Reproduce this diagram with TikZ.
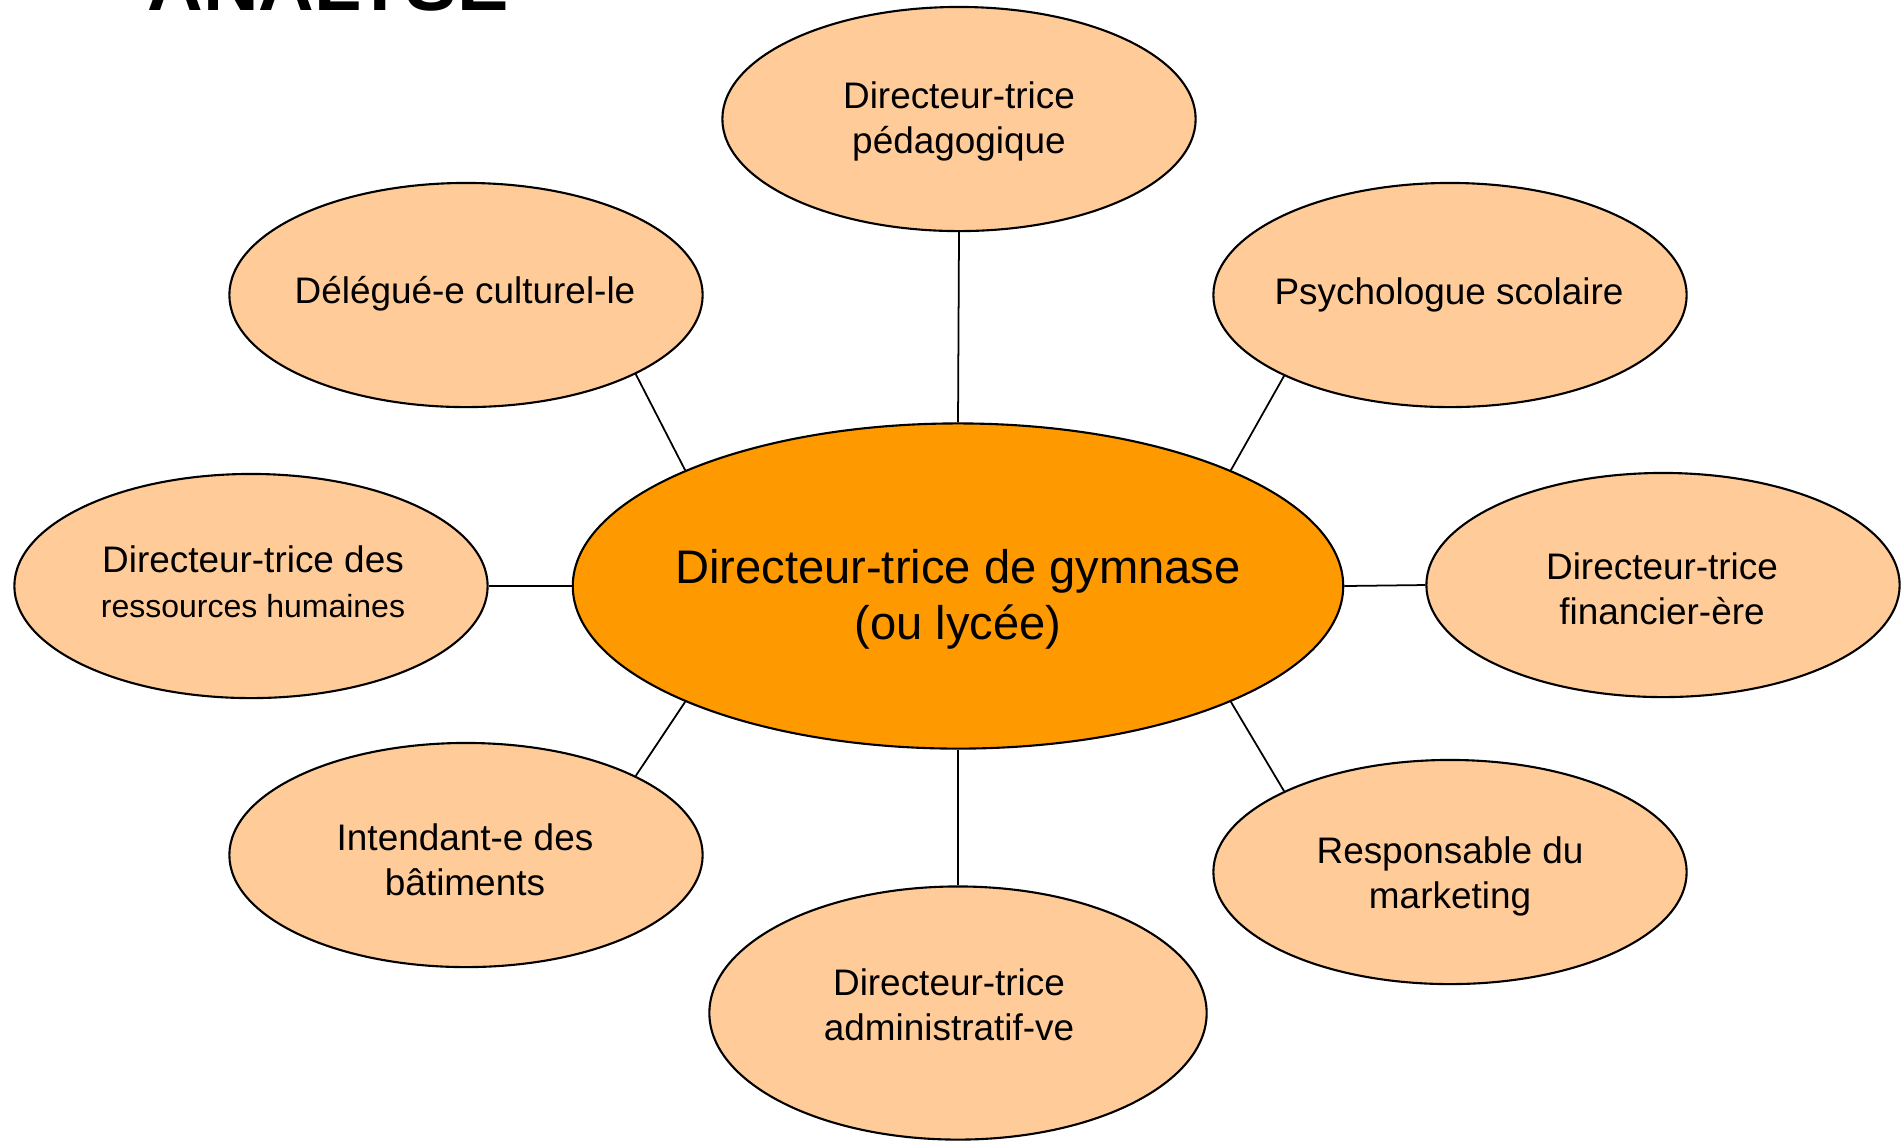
\documentclass[tikz,border=0pt]{standalone}
\usepackage{fontspec}
\setmainfont{Liberation Sans}
\usetikzlibrary{shapes.geometric}
\definecolor{cffcc99}{RGB}{255,204,153}
\definecolor{cff9900}{RGB}{255,153,0}

\begin{document}
\begin{tikzpicture}[y=0.01cm,x=0.01cm,yscale=-1,
  role/.style={ellipse,draw=black,fill=cffcc99,line width=0.6pt,inner sep=0pt,
    minimum width=4.73cm,minimum height=2.24cm},
  roletext/.style={align=center,inner sep=0pt,font=\fontsize{10.5}{12.8}\selectfont},
  link/.style={draw=black,line width=0.5pt}]
  \useasboundingbox (0,0) rectangle (1901,1141);
  \path (147,10) node[anchor=base west,inner sep=0pt,font=\bfseries\fontsize{21.9}{26}\selectfont] (textTitre) {ANALYSE};

  % ellipses
  \path (958,586) node[role,fill=cff9900,minimum width=7.70cm,minimum height=3.25cm] (ellipseCentre) {};
  \path (959,119) node[role] (ellipsePeda) {};
  \path (466,295) node[role] (ellipseDelegue) {};
  \path (1450,295) node[role] (ellipsePsy) {};
  \path (251,586) node[role] (ellipseRH) {};
  \path (1663,585) node[role] (ellipseFin) {};
  \path (466,855) node[role] (ellipseIntendant) {};
  \path (1450,872) node[role] (ellipseMarketing) {};
  \path (958,1013) node[role,minimum width=4.97cm,minimum height=2.53cm] (ellipseAdmin) {};

  % liens
  \path[link] (ellipsePeda.south) -- (ellipseCentre.north);
  \path[link] (ellipseDelegue.-25) -- (ellipseCentre.157);
  \path[link] (ellipsePsy.206) -- (ellipseCentre.23);
  \path[link] (ellipseRH.east) -- (ellipseCentre.west);
  \path[link] (ellipseCentre.east) -- (ellipseFin.west);
  \path[link] (ellipseIntendant.25) -- (ellipseCentre.203);
  \path[link] (ellipseMarketing.154) -- (ellipseCentre.-23);
  \path[link] (ellipseCentre.south) -- (ellipseAdmin.north);

  % textes
  \path (958,599) node[roletext,font=\fontsize{13.4}{15.9}\selectfont] (textCentre) {Directeur-trice de gymnase\\(ou lycée)};
  \path (959,121) node[roletext] (textPeda) {Directeur-trice\\pédagogique};
  \path (465,294) node[roletext] (textDelegue) {Délégué-e culturel-le};
  \path (1449,295) node[roletext] (textPsy) {Psychologue scolaire};
  \path (253,582) node[roletext] (textRH) {Directeur-trice des\\{\fontsize{9.1}{10.5}\selectfont ressources humaines}};
  \path (1662,589) node[roletext] (textFin) {Directeur-trice\\financier-ère};
  \path (465,860) node[roletext] (textIntendant) {Intendant-e des\\bâtiments};
  \path (1450,876) node[roletext] (textMarketing) {Responsable du\\marketing};
  \path (949,1005) node[roletext] (textAdmin) {Directeur-trice\\administratif-ve};

\end{tikzpicture}
\end{document}
